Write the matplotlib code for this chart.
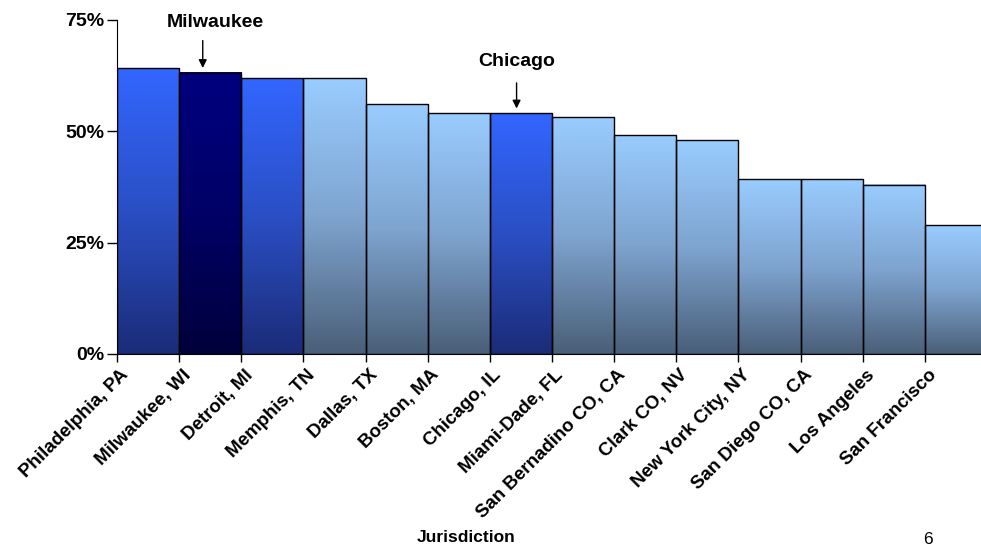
import numpy as np
import matplotlib.pyplot as plt
import matplotlib.transforms as mtransforms
from matplotlib.colors import LinearSegmentedColormap

plt.rcParams["font.family"] = ["Liberation Sans", "DejaVu Sans"]

# Share of cases by jurisdiction
jurisdictions = ["Philadelphia, PA", "Milwaukee, WI", "Detroit, MI", "Memphis, TN",
                 "Dallas, TX", "Boston, MA", "Chicago, IL", "Miami-Dade, FL",
                 "San Bernadino CO, CA", "Clark CO, NV", "New York City, NY",
                 "San Diego CO, CA", "Los Angeles", "San Francisco"]
shares = [0.642, 0.632, 0.619, 0.619, 0.561, 0.541, 0.541, 0.532,
          0.491, 0.480, 0.392, 0.392, 0.380, 0.289]
styles = ["blue", "navy", "blue", "light", "light", "light", "blue", "light",
          "light", "light", "light", "light", "light", "light"]

gradients = {
    "light": LinearSegmentedColormap.from_list("light", ["#4a5f78", "#7ea4cf", "#99ccff"]),
    "blue": LinearSegmentedColormap.from_list("blue", ["#1b2c78", "#2a4fc4", "#3366ff"]),
    "navy": LinearSegmentedColormap.from_list("navy", ["#00003c", "#000066", "#000080"]),
}

fig = plt.figure(figsize=(9.81, 5.46), dpi=100)
ax = fig.add_axes([117 / 981, 1 - 354 / 546, 870 / 981, 334 / 546])

grad = np.linspace(0, 1, 256).reshape(-1, 1)
for i, (h, s) in enumerate(zip(shares, styles)):
    ax.imshow(grad, cmap=gradients[s], origin="lower", aspect="auto",
              extent=(i, i + 1, 0, h), zorder=1)
ax.bar(np.arange(len(shares)), shares, width=1.0, align="edge",
       facecolor="none", edgecolor="black", linewidth=1.0, zorder=2)

ax.set_xlim(0, len(shares))
ax.set_ylim(0, 0.75)

ax.set_yticks([0, 0.25, 0.5, 0.75])
ax.set_yticklabels(["0%", "25%", "50%", "75%"], fontsize=14, fontweight="bold")
ax.tick_params(axis="y", length=7, width=1, pad=2)

ax.set_xticks(np.arange(len(shares)))
ax.set_xticklabels(jurisdictions, rotation=45, ha="right", rotation_mode="anchor",
                   fontsize=13.5, fontweight="bold")
ax.tick_params(axis="x", length=6, width=1, pad=3)
offset = mtransforms.ScaledTranslation(3 / 100, 0, fig.dpi_scale_trans)
for lab in ax.get_xticklabels():
    lab.set_transform(lab.get_transform() + offset)

for side in ["top", "right"]:
    ax.spines[side].set_visible(False)

# Callouts
ax.annotate("", xy=(1.38, shares[1] + 0.004), xytext=(1.38, 0.71),
            arrowprops=dict(arrowstyle="-|>", color="black", lw=1, mutation_scale=12))
ax.text(1.58, 0.745, "Milwaukee", ha="center", va="center", fontsize=14, fontweight="bold")
ax.annotate("", xy=(6.43, shares[6] + 0.004), xytext=(6.43, 0.615),
            arrowprops=dict(arrowstyle="-|>", color="black", lw=1, mutation_scale=12))
ax.text(6.43, 0.657, "Chicago", ha="center", va="center", fontsize=14, fontweight="bold")

fig.text(466 / 981, 1 - 537 / 546, "Jurisdiction", ha="center", va="center",
         fontsize=12.5, fontweight="bold")
fig.text(928 / 981, 1 - 539 / 546, "6", ha="center", va="center", fontsize=12.5)

fig.savefig("out.png", dpi=100)
